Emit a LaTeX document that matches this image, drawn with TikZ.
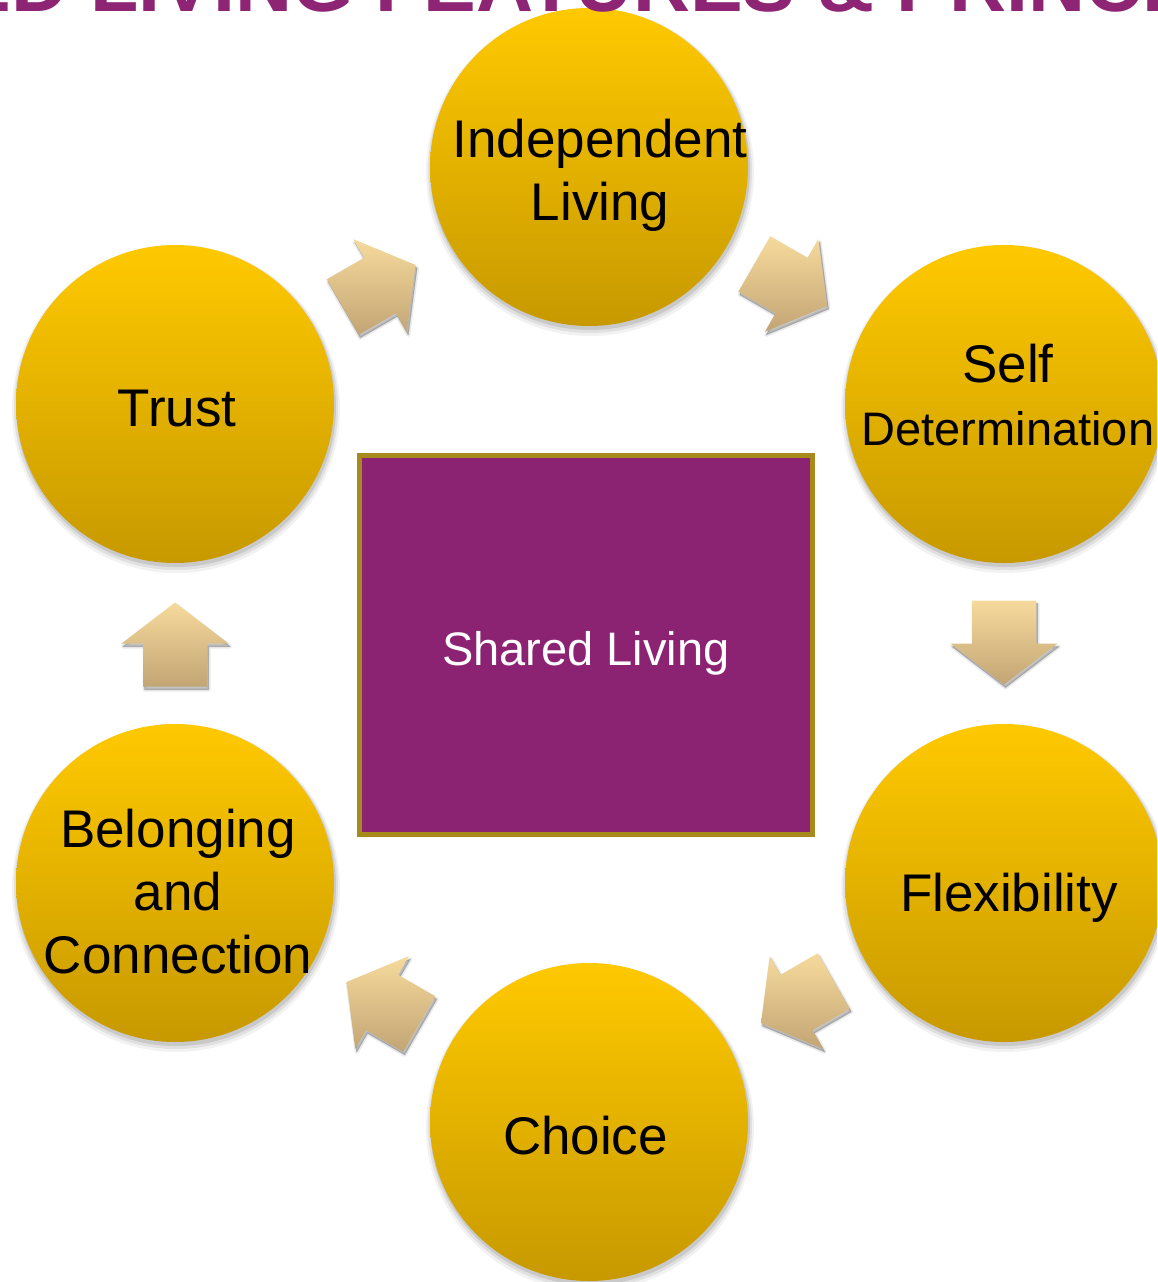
\documentclass[tikz,border=0pt]{standalone}
\usepackage{fontspec}
\setmainfont{Liberation Sans}
\usetikzlibrary{calc}
\definecolor{circtop}{RGB}{255,201,0}
\definecolor{circbot}{RGB}{199,153,0}
\definecolor{arrtop}{RGB}{246,218,156}
\definecolor{arrbot}{RGB}{194,165,116}
\definecolor{sqfill}{RGB}{140,35,114}
\definecolor{sqline}{RGB}{168,137,28}
\definecolor{ttl}{RGB}{142,36,116}
\newcommand\arrowpath[2]{($(#1)+(#2:-43)+(#2+90:-32)$) -- ($(#1)+(#2+90:-32)$) -- ($(#1)+(#2+90:-53.5)$) -- ($(#1)+(#2:41)$) -- ($(#1)+(#2+90:53.5)$) -- ($(#1)+(#2+90:32)$) -- ($(#1)+(#2:-43)+(#2+90:32)$) -- cycle}
\begin{document}
\begin{tikzpicture}[x=1pt,y=-1pt,
  circ/.style={circle, minimum size=318pt, inner sep=0pt, top color=circtop, bottom color=circbot, draw=none},
  txt/.style={font=\fontsize{53}{63}\selectfont, align=center, inner sep=0pt, text=black},
  sqbox/.style={rectangle, minimum width=453pt, minimum height=379pt, fill=sqfill, draw=sqline, line width=5pt, inner sep=0pt},
  cshadow/.style={fill=black, opacity=#1},
  ashadow/.style={fill=black, draw=black, opacity=#1, line join=round},
  blockarrow/.style={top color=arrtop, bottom color=arrbot, draw=none}]
\useasboundingbox (0,0) rectangle (1157,1282);
\clip (0,0) rectangle (1157,1282);
\fill[white] (0,0) rectangle (1157,1282);
% circle centres
\coordinate (p1) at (589,167);
\coordinate (p2) at (1004,404);
\coordinate (p3) at (1004,883);
\coordinate (p4) at (589,1122);
\coordinate (p5) at (175,883);
\coordinate (p6) at (175,404);
% soft shadows of the circles
\foreach \p in {p1,p2,p3,p4,p5,p6}{
  \fill[cshadow=.05] ($(\p)+(1,5)$) circle[radius=164pt];
  \fill[cshadow=.07] ($(\p)+(1,4)$) circle[radius=162pt];
  \fill[cshadow=.10] ($(\p)+(1,3)$) circle[radius=160pt];
}
% circles
\node[circ] (c1) at (p1) {};
\node[circ] (c2) at (p2) {};
\node[circ] (c3) at (p3) {};
\node[circ] (c4) at (p4) {};
\node[circ] (c5) at (p5) {};
\node[circ] (c6) at (p6) {};
% title (cut off at the top)
\node[anchor=base west, font=\fontsize{79}{90}\selectfont\bfseries, text=ttl, inner sep=0pt] (title) at (-265.5,12) {SHARED LIVING FEATURES \& PRINCIPLES};
% arrow positions between the circles
\coordinate (a1) at ($(c6.center)!0.5!(c1.center)+(-2,0)$);
\coordinate (a2) at ($(c1.center)!0.5!(c2.center)+(-5,0)$);
\coordinate (a3) at ($(c2.center)!0.5!(c3.center)$);
\coordinate (a4) at ($(c3.center)!0.5!(c4.center)$);
\coordinate (a5) at ($(c4.center)!0.5!(c5.center)$);
\coordinate (a6) at ($(c5.center)!0.5!(c6.center)$);
% arrow shadows
\begin{scope}[transform canvas={shift={(1.5pt,-3pt)}}]
  \path[ashadow=.08, line width=4pt] \arrowpath{a1}{-30};
  \path[ashadow=.08, line width=4pt] \arrowpath{a2}{30};
  \path[ashadow=.08, line width=4pt] \arrowpath{a3}{90};
  \path[ashadow=.08, line width=4pt] \arrowpath{a4}{150};
  \path[ashadow=.08, line width=4pt] \arrowpath{a5}{-150};
  \path[ashadow=.08, line width=4pt] \arrowpath{a6}{-90};
  \path[ashadow=.15, line width=1pt] \arrowpath{a1}{-30};
  \path[ashadow=.15, line width=1pt] \arrowpath{a2}{30};
  \path[ashadow=.15, line width=1pt] \arrowpath{a3}{90};
  \path[ashadow=.15, line width=1pt] \arrowpath{a4}{150};
  \path[ashadow=.15, line width=1pt] \arrowpath{a5}{-150};
  \path[ashadow=.15, line width=1pt] \arrowpath{a6}{-90};
\end{scope}
% block arrows
\path[blockarrow] \arrowpath{a1}{-30};
\path[blockarrow] \arrowpath{a2}{30};
\path[blockarrow] \arrowpath{a3}{90};
\path[blockarrow] \arrowpath{a4}{150};
\path[blockarrow] \arrowpath{a5}{-150};
\path[blockarrow] \arrowpath{a6}{-90};
% centre square
\node[sqbox] (sq) at (586,645) {};
\node[font=\fontsize{47}{56}\selectfont, text=white, inner sep=0pt] (sl) at (586,653) {Shared Living};
% circle texts
\node[txt] (t1) at (600,175) {Independent\\Living};
\node[txt] (t2) at (1008,395) {Self\\{\fontsize{47}{63}\selectfont Determination}};
\node[txt] (t3) at (1009,898) {Flexibility};
\node[txt] (t4) at (585.5,1136) {Choice};
\node[txt] (t5) at (178,892) {Belonging\\and\\Connection};
\node[txt] (t6) at (177,409) {Trust};
\end{tikzpicture}
\end{document}
